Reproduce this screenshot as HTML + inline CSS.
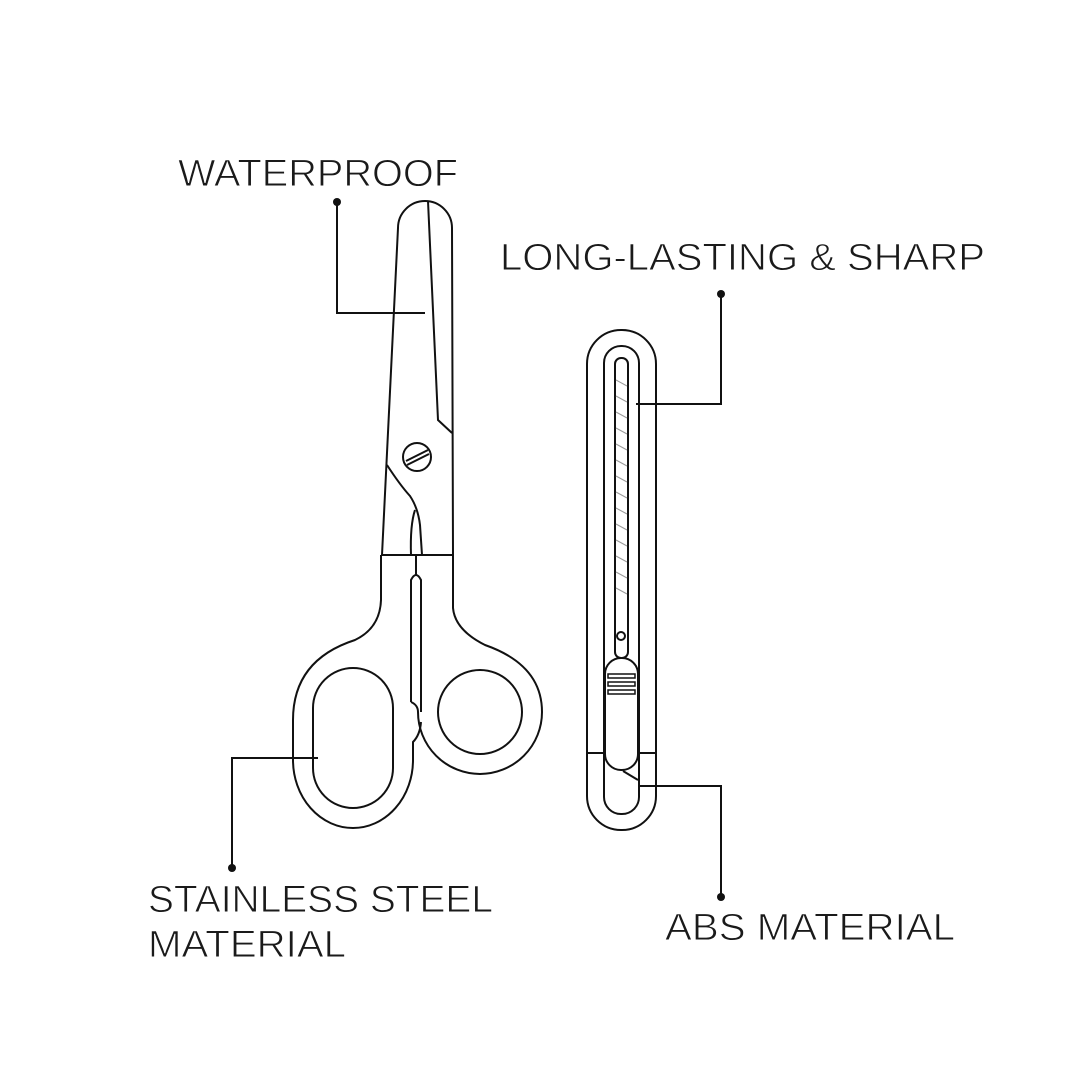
<!DOCTYPE html>
<html><head><meta charset="utf-8"><style>
html,body{margin:0;padding:0;background:#fff;}
svg{display:block}
text{font-family:"Liberation Sans",sans-serif;fill:#1a1a1a;font-size:38px;stroke:#fff;stroke-width:0.9px;paint-order:normal;}
</style></head><body>
<svg width="1080" height="1080" viewBox="0 0 1080 1080" xmlns="http://www.w3.org/2000/svg">
<rect width="1080" height="1080" fill="#fff"/>
<g fill="none" stroke="#111" stroke-width="2">
<path d="M382,555 L398,228 A27,27 0 0 1 452,228 L453,555"/>
<path d="M428,201 L438,420 L452,433"/>
<circle cx="417" cy="457" r="14"/>
<path d="M406,461 L428,450 M407,465 L429,454"/>
<path d="M387,465 Q400,485 410,496 Q418,508 420,525 L422,555"/>
<path d="M415,510 Q410,525 411,555"/>
<path d="M381,555 L453,555"/>
<path d="M381,555 L381,600 Q380,628 355,640 Q293,660 293,720 L293,760 A60,68 0 0 0 413,760 L413,742 Q420,735 421,722"/>
<path d="M453,555 L453,608 Q455,630 485,645 Q542,665 542,712 A62,62 0 0 1 418,712 Q418,705 411,702"/>
<rect x="313" y="668" width="80" height="140" rx="40"/>
<circle cx="480" cy="712" r="42"/>
<path d="M416,555 L416,575"/>
<path d="M411,702 L411,580 Q416,570 421,580 L421,712"/>
<rect x="587" y="330" width="69" height="500" rx="34"/>
<rect x="604" y="346" width="35" height="468" rx="17"/>
<rect x="615" y="358" width="13" height="300" rx="6"/>
<circle cx="621" cy="636" r="4"/>
<rect x="605" y="658" width="33" height="112" rx="16" fill="#fff"/>
<rect x="608" y="674" width="27" height="4" stroke-width="1.5"/>
<rect x="608" y="682" width="27" height="4" stroke-width="1.5"/>
<rect x="608" y="690" width="27" height="4" stroke-width="1.5"/>
<path d="M587,753 L604,753 M639,753 L656,753"/>
<path d="M623,771 L638,780"/>
</g>
<g stroke="#999" stroke-width="1">
<path d="M616,380 L627,386 M616,396 L627,402 M616,412 L627,418 M616,428 L627,434 M616,444 L627,450 M616,460 L627,466 M616,476 L627,482 M616,492 L627,498 M616,508 L627,514 M616,524 L627,530 M616,540 L627,546 M616,556 L627,562 M616,572 L627,578 M616,588 L627,594"/>
</g>
<g fill="none" stroke="#111" stroke-width="2">
<path d="M337,202 L337,313 L425,313"/>
<path d="M721,294 L721,404 L636,404"/>
<path d="M232,868 L232,758 L318,758"/>
<path d="M721,897 L721,786 L640,786"/>
</g>
<g fill="#111">
<circle cx="337" cy="202" r="4"/>
<circle cx="721" cy="294" r="4"/>
<circle cx="232" cy="868" r="4"/>
<circle cx="721" cy="897" r="4"/>
</g>
<text x="178" y="186" textLength="280" lengthAdjust="spacingAndGlyphs">WATERPROOF</text>
<text x="500" y="270" textLength="485" lengthAdjust="spacingAndGlyphs">LONG-LASTING &amp; SHARP</text>
<text x="148" y="912" textLength="345" lengthAdjust="spacingAndGlyphs">STAINLESS STEEL</text>
<text x="148" y="957" textLength="198" lengthAdjust="spacingAndGlyphs">MATERIAL</text>
<text x="665" y="940" textLength="290" lengthAdjust="spacingAndGlyphs">ABS MATERIAL</text>
</svg>
</body></html>
